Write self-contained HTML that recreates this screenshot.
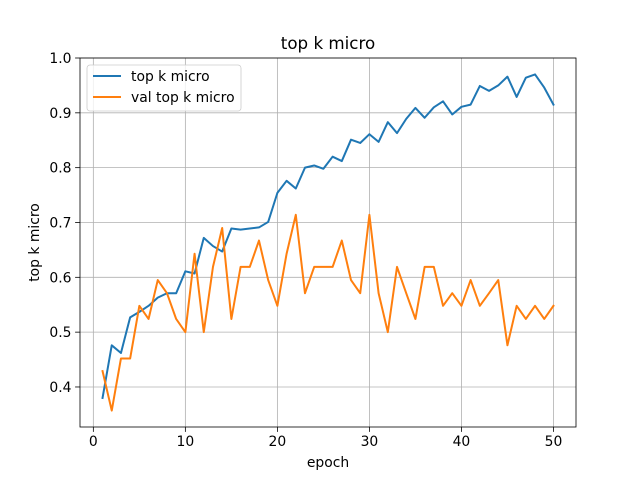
<!DOCTYPE html>
<html><head><meta charset="utf-8"><style>
html,body{margin:0;padding:0;background:#fff}
svg{display:block;font-family:"DejaVu Sans","Liberation Sans",sans-serif}
</style></head><body>
<svg id="chart" width="640" height="480" viewBox="0 0 640 480"></svg>
<script>
const epochs = Array.from({length:50},(_,i)=>i+1);
const trainValues = [0.38,0.476,0.462,0.527,0.537,0.548,0.563,0.571,0.571,0.611,0.607,0.672,0.657,0.647,0.689,0.687,0.689,0.691,0.701,0.754,0.776,0.762,0.8,0.804,0.798,0.82,0.812,0.851,0.845,0.861,0.847,0.883,0.863,0.889,0.909,0.891,0.91,0.921,0.897,0.911,0.915,0.949,0.94,0.95,0.966,0.929,0.964,0.97,0.946,0.915];
const valValues = [0.429,0.357,0.452,0.452,0.548,0.524,0.595,0.571,0.524,0.5,0.643,0.5,0.619,0.69,0.524,0.619,0.619,0.667,0.595,0.548,0.643,0.714,0.571,0.619,0.619,0.619,0.667,0.595,0.571,0.714,0.571,0.5,0.619,0.571,0.524,0.619,0.619,0.548,0.571,0.548,0.595,0.548,0.571,0.595,0.476,0.548,0.524,0.548,0.524,0.548];
const xTicks = [0,10,20,30,40,50];
const yTicks = [0.4,0.5,0.6,0.7,0.8,0.9,1.0];
const yTickLabels = ["0.4","0.5","0.6","0.7","0.8","0.9","1.0"];

const L=80,R=576,T=58,B=427;
const xMin=-1.45,xMax=52.45,yMin=0.327,yMax=1.0;
const sx=v=>L+(v-xMin)/(xMax-xMin)*(R-L);
const sy=v=>B-(v-yMin)/(yMax-yMin)*(B-T);
const NS="http://www.w3.org/2000/svg";
const svg=document.getElementById('chart');
function mk(tag,attrs,parent){const e=document.createElementNS(NS,tag);for(const k in attrs)e.setAttribute(k,attrs[k]);(parent||svg).appendChild(e);return e;}

const grid=mk('g',{});


xTicks.forEach(t=>{mk('line',{x1:sx(t),x2:sx(t),y1:T,y2:B,stroke:'#b0b0b0','stroke-width':0.8},grid);});
yTicks.forEach(t=>{mk('line',{x1:L,x2:R,y1:sy(t),y2:sy(t),stroke:'#b0b0b0','stroke-width':0.8},grid);});

const xAxis=mk('g',{});


xTicks.forEach(t=>{
  mk('line',{x1:sx(t),x2:sx(t),y1:B,y2:B+4.9,stroke:'#000','stroke-width':0.8},xAxis);
  const tx=mk('text',{x:sx(t),y:B+19,'font-size':13.9,'text-anchor':'middle'},xAxis);tx.textContent=t;
});
const yAxis=mk('g',{});


yTicks.forEach((t,i)=>{
  mk('line',{x1:L-4.9,x2:L,y1:sy(t),y2:sy(t),stroke:'#000','stroke-width':0.8},yAxis);
  const tx=mk('text',{x:L-8.5,y:sy(t)+5,'font-size':13.9,'text-anchor':'end'},yAxis);tx.textContent=yTickLabels[i];
});

function series(vals,color,name){
  const p=mk('polyline',{points:vals.map((v,i)=>sx(epochs[i])+','+sy(v)).join(' '),fill:'none',stroke:color,'stroke-width':2,'stroke-linejoin':'round','stroke-linecap':'square'});
  
  
}
series(trainValues,'#1f77b4','train-line');
series(valValues,'#ff7f0e','val-line');

mk('rect',{x:L,y:T,width:R-L,height:B-T,fill:'none',stroke:'#000','stroke-width':0.8});

const title=mk('text',{x:(L+R)/2,y:T-9,'font-size':16.7,'text-anchor':'middle'});
title.textContent='top k micro';


const xl=mk('text',{x:(L+R)/2,y:467,'font-size':13.9,'text-anchor':'middle'});
xl.textContent='epoch';


const yl=mk('text',{x:0,y:0,'font-size':13.9,'text-anchor':'middle',transform:`translate(39,${(T+B)/2}) rotate(-90)`});
yl.textContent='top k micro';



const lg=mk('g',{});


mk('rect',{x:87,y:65,width:154,height:46,rx:3,fill:'#fff','fill-opacity':0.8,stroke:'#ccc','stroke-width':0.8},lg);
[['top k micro','#1f77b4',76],['val top k micro','#ff7f0e',97]].forEach(([t,c,y])=>{
  const e=mk('g',{},lg);
  
  
  mk('line',{x1:93,x2:121,y1:y,y2:y,stroke:c,'stroke-width':2},e);
  const tx=mk('text',{x:131,y:y+5,'font-size':13.9},e);tx.textContent=t;
});
</script>
</body></html>
